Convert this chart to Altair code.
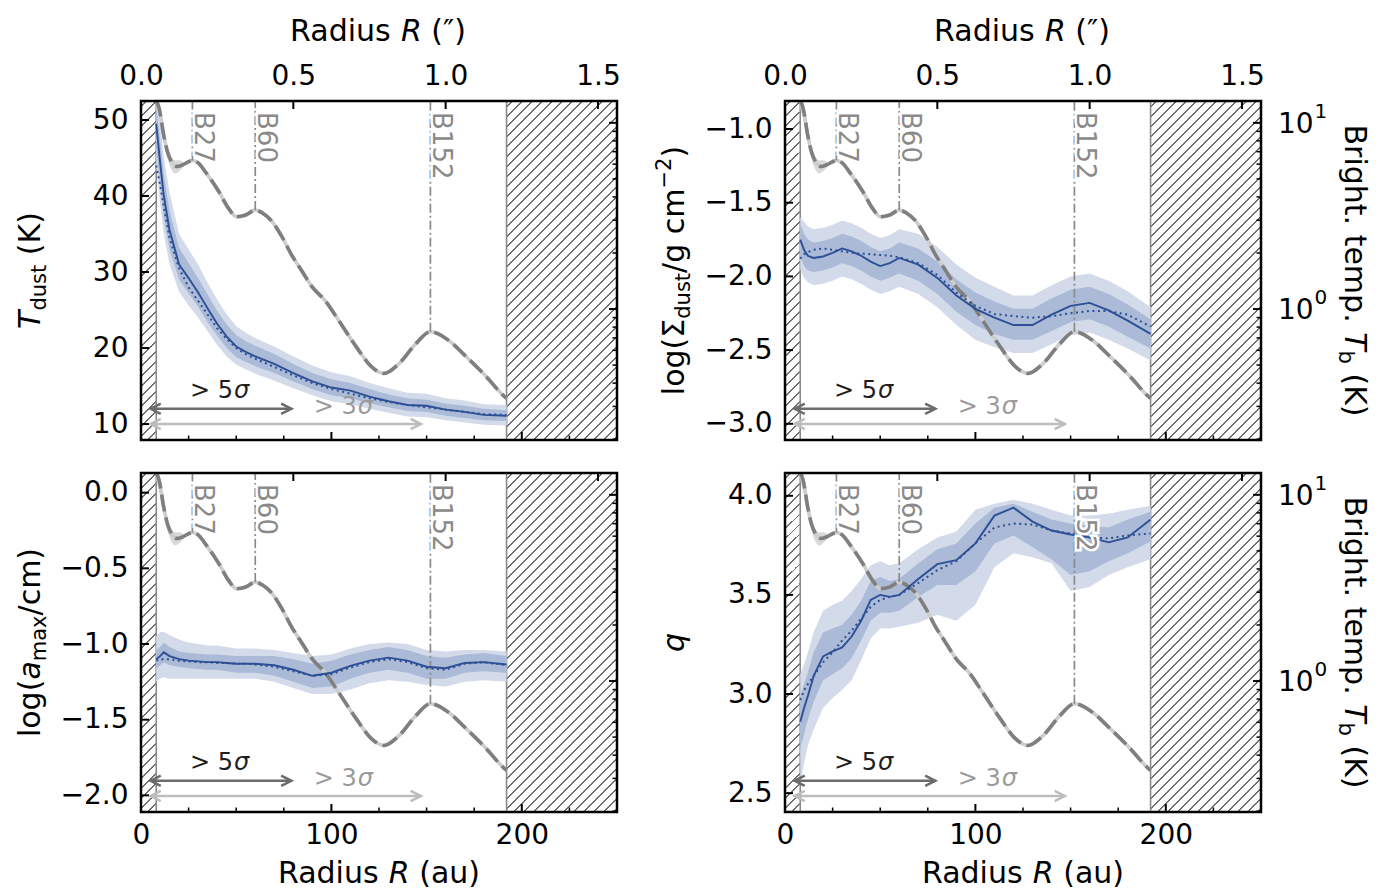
import altair as alt
import pandas as pd

# ---------------------------------------------------------------- data
R_AU = [8, 10, 12, 15, 20, 25, 30, 35, 40, 45, 50, 55, 60, 70, 80, 90, 100,
        110, 120, 130, 140, 150, 160, 170, 180, 192]

# dust temperature (K)
T_VAL = [49.5, 44.5, 40.0, 35.5, 31.0, 29.2, 27.3, 25.2, 23.2, 21.5, 20.2, 19.5, 18.9,
         17.9, 16.7, 15.6, 14.8, 14.4, 13.6, 13.0, 12.5, 12.4, 11.9, 11.6, 11.2, 11.1]
T_DOT = [44.0, 41.5, 38.5, 34.5, 30.5, 28.0, 26.2, 24.4, 22.6, 21.2, 20.0, 19.2, 18.6,
         17.5, 16.4, 15.4, 14.6, 14.0, 13.4, 12.9, 12.5, 12.2, 11.9, 11.6, 11.3, 11.2]
T_IN_LO = [46.5, 41.5, 37.0, 33.0, 29.0, 27.2, 25.4, 23.4, 21.6, 20.0, 18.8, 18.2, 17.6,
           16.7, 15.6, 14.6, 13.8, 13.4, 12.7, 12.2, 11.7, 11.6, 11.1, 10.8, 10.5, 10.4]
T_IN_HI = [52.0, 47.5, 42.8, 38.0, 33.2, 31.2, 29.2, 27.0, 24.9, 23.1, 21.7, 20.9, 20.3,
           19.2, 17.9, 16.7, 15.9, 15.4, 14.6, 13.9, 13.4, 13.2, 12.7, 12.4, 12.0, 11.8]
T_OUT_LO = [44.0, 39.0, 35.0, 31.0, 27.4, 25.6, 24.0, 22.2, 20.4, 18.9, 17.8, 17.2, 16.6,
            15.7, 14.7, 13.8, 13.0, 12.6, 12.0, 11.5, 11.0, 10.9, 10.5, 10.2, 9.9, 9.8]
T_OUT_HI = [54.0, 50.0, 45.0, 40.5, 35.0, 33.0, 31.0, 28.6, 26.4, 24.4, 22.9, 22.0, 21.3,
            20.2, 18.9, 17.7, 16.8, 16.3, 15.4, 14.7, 14.1, 14.0, 13.4, 13.1, 12.6, 12.5]

# log surface density
S_VAL = [-1.75, -1.82, -1.86, -1.875, -1.865, -1.84, -1.81, -1.83, -1.86, -1.90, -1.93, -1.91, -1.875,
         -1.92, -2.01, -2.13, -2.22, -2.28, -2.33, -2.33, -2.26, -2.20, -2.18, -2.23, -2.30, -2.39]
S_DOT = [-1.88, -1.85, -1.835, -1.82, -1.81, -1.82, -1.83, -1.84, -1.845, -1.85, -1.855, -1.86, -1.87,
         -1.91, -1.99, -2.11, -2.20, -2.255, -2.27, -2.28, -2.27, -2.25, -2.235, -2.235, -2.26, -2.34]
S_IN_LO = [-1.86, -1.93, -1.96, -1.97, -1.96, -1.94, -1.91, -1.93, -1.96, -2.00, -2.03, -2.01, -1.98,
           -2.03, -2.12, -2.24, -2.33, -2.39, -2.43, -2.43, -2.37, -2.31, -2.29, -2.34, -2.41, -2.49]
S_IN_HI = [-1.64, -1.71, -1.75, -1.77, -1.76, -1.74, -1.71, -1.73, -1.76, -1.80, -1.83, -1.81, -1.77,
           -1.81, -1.90, -2.02, -2.11, -2.17, -2.22, -2.22, -2.15, -2.09, -2.07, -2.12, -2.19, -2.29]
S_OUT_LO = [-1.95, -2.01, -2.04, -2.06, -2.05, -2.03, -2.00, -2.02, -2.05, -2.09, -2.12, -2.10, -2.07,
            -2.12, -2.21, -2.33, -2.43, -2.48, -2.52, -2.52, -2.46, -2.40, -2.38, -2.43, -2.49, -2.57]
S_OUT_HI = [-1.60, -1.63, -1.66, -1.68, -1.67, -1.65, -1.62, -1.64, -1.67, -1.71, -1.74, -1.72, -1.68,
            -1.71, -1.80, -1.92, -2.01, -2.07, -2.13, -2.13, -2.06, -2.00, -1.98, -2.03, -2.10, -2.21]

# log maximum grain size
A_VAL = [-1.10, -1.08, -1.055, -1.08, -1.10, -1.11, -1.115, -1.12, -1.12, -1.125, -1.13, -1.13, -1.13,
         -1.14, -1.17, -1.21, -1.19, -1.145, -1.11, -1.09, -1.11, -1.15, -1.16, -1.125, -1.12, -1.135]
A_DOT = [-1.11, -1.10, -1.10, -1.10, -1.11, -1.115, -1.12, -1.12, -1.125, -1.125, -1.13, -1.13, -1.135,
         -1.15, -1.18, -1.21, -1.20, -1.155, -1.12, -1.10, -1.12, -1.16, -1.17, -1.13, -1.12, -1.14]
A_IN_LO = [-1.16, -1.14, -1.12, -1.14, -1.15, -1.16, -1.165, -1.17, -1.17, -1.18, -1.19, -1.19, -1.19,
           -1.21, -1.25, -1.29, -1.28, -1.23, -1.19, -1.17, -1.19, -1.23, -1.23, -1.19, -1.18, -1.19]
A_IN_HI = [-1.04, -1.02, -0.99, -1.02, -1.05, -1.06, -1.065, -1.07, -1.07, -1.075, -1.08, -1.08, -1.08,
           -1.08, -1.10, -1.13, -1.11, -1.07, -1.04, -1.02, -1.04, -1.08, -1.09, -1.07, -1.06, -1.08]
A_OUT_LO = [-1.25, -1.23, -1.22, -1.23, -1.23, -1.23, -1.23, -1.23, -1.23, -1.23, -1.23, -1.23, -1.23,
            -1.25, -1.29, -1.33, -1.33, -1.30, -1.26, -1.24, -1.25, -1.27, -1.28, -1.25, -1.24, -1.25]
A_OUT_HI = [-0.95, -0.92, -0.92, -0.94, -0.97, -0.99, -1.00, -1.01, -1.01, -1.02, -1.03, -1.03, -1.03,
            -1.04, -1.06, -1.08, -1.07, -1.03, -1.00, -0.99, -1.00, -1.04, -1.05, -1.04, -1.04, -1.05]

# power-law index q
Q_VAL = [2.86, 2.93, 2.99, 3.09, 3.19, 3.215, 3.235, 3.29, 3.37, 3.475, 3.50, 3.49, 3.50,
         3.58, 3.655, 3.675, 3.76, 3.90, 3.94, 3.87, 3.825, 3.805, 3.79, 3.765, 3.79, 3.88]
Q_DOT = [2.97, 3.02, 3.05, 3.09, 3.16, 3.21, 3.27, 3.32, 3.38, 3.44, 3.475, 3.49, 3.50,
         3.56, 3.625, 3.67, 3.76, 3.84, 3.86, 3.855, 3.825, 3.81, 3.79, 3.785, 3.80, 3.81]
Q_IN_LO = [2.72, 2.80, 2.87, 2.96, 3.07, 3.10, 3.13, 3.18, 3.27, 3.37, 3.41, 3.41, 3.42,
           3.49, 3.55, 3.55, 3.62, 3.76, 3.80, 3.74, 3.68, 3.60, 3.62, 3.67, 3.71, 3.77]
Q_IN_HI = [2.98, 3.05, 3.11, 3.21, 3.31, 3.33, 3.35, 3.40, 3.47, 3.57, 3.59, 3.57, 3.58,
           3.66, 3.73, 3.76, 3.86, 3.94, 3.96, 3.92, 3.88, 3.86, 3.85, 3.84, 3.88, 3.92]
Q_OUT_LO = [2.55, 2.65, 2.74, 2.82, 2.93, 2.98, 3.02, 3.07, 3.17, 3.28, 3.33, 3.33, 3.34,
            3.36, 3.40, 3.37, 3.45, 3.64, 3.71, 3.69, 3.66, 3.52, 3.54, 3.60, 3.64, 3.68]
Q_OUT_HI = [3.10, 3.15, 3.21, 3.31, 3.42, 3.45, 3.47, 3.52, 3.58, 3.65, 3.67, 3.65, 3.66,
            3.73, 3.79, 3.82, 3.93, 3.96, 3.98, 3.96, 3.93, 3.90, 3.90, 3.91, 3.93, 3.95]

# brightness temperature profile (K), right-hand log axis
TB_R = [8, 9.5, 12, 14, 16.3, 19, 22, 27, 30, 34, 41, 46, 50, 55, 60, 64, 69, 74, 79, 84.5,
        90, 97, 104, 113, 121, 127.6, 135.5, 144.4, 152, 161.8, 170.7, 181.2, 190.7, 192]
TB_K = [13.2, 12.0, 8.51, 6.92, 6.12, 5.83, 5.96, 6.28, 6.10, 5.42, 4.25, 3.47, 3.13, 3.20,
        3.40, 3.27, 2.94, 2.45, 1.96, 1.60, 1.31, 1.10, 0.863, 0.628, 0.491, 0.451, 0.509,
        0.652, 0.755, 0.676, 0.556, 0.435, 0.340, 0.331]
# light uncertainty band of the brightness temperature near the centre
TB_ERR_R = [8, 10, 12, 14, 16, 18, 20, 22]
TB_ERR_LO = [12.0, 10.0, 7.9, 6.4, 5.6, 5.35, 5.5, 5.75]
TB_ERR_HI = [14.0, 12.0, 9.2, 7.4, 6.6, 6.3, 6.3, 6.2]

B_NAMES = ["B27", "B60", "B152"]
B_R = [27, 60, 152]
HATCH_IN = [0, 8]
HATCH_OUT = [192, 250]
SIG5 = [5, 79]
SIG3 = [5, 147]
SIG5_LABEL_R = 41
SIG3_LABEL_R = 106

X_DOMAIN = [0, 250]
TB_DOMAIN = [0.198, 13.1]
X_MAJOR = [0, 100, 200]
X_MINOR = [25, 50, 75, 125, 150, 175, 225]
ARCSEC_TICKS = [0.0, 0.5, 1.0, 1.5]
AU_PER_ARCSEC = 160
TB_MAJOR = [1, 10]
TB_MAJOR_EXP = ["0", "1"]
TB_MINOR = [0.2, 0.3, 0.4, 0.5, 0.6, 0.7, 0.8, 0.9, 2, 3, 4, 5, 6, 7, 8, 9]

# ---------------------------------------------------------------- style
W, H = 476, 339
FONT = "DejaVu Sans"
FS_TICK = 28
FS_TITLE = 30
BLUE = "#2c4f95"
BAND_OUT = "#d3dbea"
BAND_IN = "#abbad7"
GRAY_DARK = "#7f7f7f"
GRAY_LIGHT = "#cdcdcd"
B_COLOR = "#8a8a8a"
HATCH_COLOR = "#6e6e6e"
ARROW_DARK = "#6b6b6b"
ARROW_LIGHT = "#bdbdbd"
LEFT_HEAD = "M1,-0.5L0,0L1,0.5"
RIGHT_HEAD = "M-1,-0.5L0,0L-1,0.5"
MAJ, MIN = 8, 4.5

ONE = pd.DataFrame({"k": [0]})

CW = {" ": 0.318, "(": 0.390, ")": 0.390, "/": 0.337, ".": 0.318, "−": 0.838, "″": 0.44,
      ">": 0.838, "5": 0.636, "3": 0.636, "σ": 0.636,
      "0": 0.636, "1": 0.636, "2": 0.636, "B": 0.686, "K": 0.656, "R": 0.695, "T": 0.611,
      "Σ": 0.632, "a": 0.613, "b": 0.635, "c": 0.550, "d": 0.635, "e": 0.615, "g": 0.635,
      "h": 0.634, "i": 0.278, "l": 0.278, "m": 0.974, "n": 0.634, "o": 0.612, "p": 0.635,
      "q": 0.635, "r": 0.411, "s": 0.521, "t": 0.392, "u": 0.634, "x": 0.592}


def text_w(s, fs):
    return sum(CW.get(ch, 0.6) for ch in s) * fs


def rich_text(segments, cx, cy, angle, fs=FS_TITLE):
    sizes = {"n": fs, "i": fs, "sub": round(fs * 0.7), "sup": round(fs * 0.7)}
    shifts = {"n": 0, "i": 0, "sub": 0.22 * fs, "sup": -0.42 * fs}
    widths = [text_w(t, sizes[k]) for t, k in segments]
    pos = -sum(widths) / 2
    out = []
    for (t, k), w in zip(segments, widths):
        lead = len(t) - len(t.lstrip(" "))
        p = pos + lead * CW[" "] * sizes[k]
        txt = t.strip(" ")
        sh = shifts[k]
        if angle == 0:
            x, y = cx + p, cy + 0.36 * fs + sh
        elif angle == 270:
            x, y = cx + 0.36 * fs + sh, cy - p
        else:
            x, y = cx - 0.36 * fs - sh, cy + p
        out.append(
            alt.Chart(ONE).mark_text(
                text=txt, angle=angle, align="left", baseline="alphabetic",
                fontSize=sizes[k], font=FONT, color="black",
                fontStyle="italic" if k == "i" else "normal",
            ).encode(x=alt.value(x), y=alt.value(y))
        )
        pos += w
    return out


def hatch(w, h, step=10.0, thick=1.7, color=HATCH_COLOR):
    L = w + h
    stops = [alt.GradientStop(color="white", offset=0)]
    pos = step * 0.5
    while pos + thick < L:
        a, b = pos / L, (pos + thick) / L
        stops += [alt.GradientStop(color="white", offset=a),
                  alt.GradientStop(color=color, offset=a),
                  alt.GradientStop(color=color, offset=b),
                  alt.GradientStop(color="white", offset=b)]
        pos += step
    stops.append(alt.GradientStop(color="white", offset=1))
    c = L / (w * w + h * h)
    return alt.LinearGradient(gradient="linear", stops=stops, x1=0, y1=0, x2=w * c, y2=h * c)


def tb_expr(field, dom):
    lo, hi = TB_DOMAIN
    return (f"{dom[0]} + (log(datum.{field}) - log({lo})) / (log({hi}) - log({lo}))"
            f" * ({dom[1]} - {dom[0]})")


def make_panel(p, top_row, right_col):
    df = pd.DataFrame({"r": R_AU, "v": p["val"], "d": p["dot"], "il": p["il"],
                       "ih": p["ih"], "ol": p["ol"], "oh": p["oh"]})
    dom = p["dom"]
    xs = alt.Scale(domain=X_DOMAIN, nice=False, zero=False)
    ys = alt.Scale(domain=dom, nice=False, zero=False)

    common = dict(ticks=False, domain=False, grid=False, title=None, labelFont=FONT,
                  labelFontSize=FS_TICK, labelColor="black", labelFlush=False,
                  labelOverlap=False)
    if top_row:
        xaxis = alt.Axis(orient="top", values=[a * AU_PER_ARCSEC for a in ARCSEC_TICKS],
                         labelExpr=f"format(datum.value/{AU_PER_ARCSEC}, '.1f')",
                         labelPadding=11, **common)
    else:
        xaxis = alt.Axis(orient="bottom", values=X_MAJOR, format="d", labelPadding=9,
                         **common)
    yaxis = alt.Axis(orient="left", values=p["ticks"], format=p["fmt"], labelPadding=13,
                     **common)

    def X(f):
        return alt.X(f, type="quantitative", scale=xs, axis=xaxis)

    def Y(f):
        return alt.Y(f, type="quantitative", scale=ys, axis=yaxis)

    L = []
    span = X_DOMAIN[1] - X_DOMAIN[0]
    for a, b in (HATCH_IN, HATCH_OUT):
        w = (b - a) * W / span
        L.append(alt.Chart(pd.DataFrame({"a": [a], "b": [b]}))
                 .mark_rect(fill=hatch(w, H), strokeWidth=0)
                 .encode(x=X("a"), x2=alt.X2("b"), y=alt.value(0), y2=alt.value(H)))
    L.append(alt.Chart(pd.DataFrame({"r": [HATCH_IN[1], HATCH_OUT[0]]}))
             .mark_rule(color="#8a8a8a", strokeWidth=1.6)
             .encode(x=X("r"), y=alt.value(0), y2=alt.value(H)))

    base = alt.Chart(df)
    L.append(base.mark_area(color=BAND_OUT, opacity=1, clip=True)
             .encode(x=X("r"), y=Y("ol"), y2=alt.Y2("oh")))
    L.append(base.mark_area(color=BAND_IN, opacity=1, clip=True)
             .encode(x=X("r"), y=Y("il"), y2=alt.Y2("ih")))

    err = alt.Chart(pd.DataFrame({"r": TB_ERR_R, "lo": TB_ERR_LO, "hi": TB_ERR_HI})
                    ).transform_calculate(tlo=tb_expr("lo", dom), thi=tb_expr("hi", dom))
    L.append(err.mark_area(color="#d9d9d9", opacity=1, interpolate="monotone", clip=True)
             .encode(x=X("r"), y=Y("tlo"), y2=alt.Y2("thi")))

    tbc = alt.Chart(pd.DataFrame({"r": TB_R, "tb": TB_K})).transform_calculate(
        ty=tb_expr("tb", dom))
    L.append(tbc.mark_line(color=GRAY_LIGHT, strokeWidth=3.6, interpolate="monotone", clip=True)
             .encode(x=X("r"), y=Y("ty")))
    L.append(tbc.mark_line(color=GRAY_DARK, strokeWidth=3.6, interpolate="monotone",
                           strokeDash=[17, 6], clip=True)
             .encode(x=X("r"), y=Y("ty")))

    bdf = alt.Chart(pd.DataFrame({"r": B_R, "name": B_NAMES,
                                  "tb": [TB_K[TB_R.index(r)] for r in B_R]})
                    ).transform_calculate(ty=tb_expr("tb", dom))
    L.append(bdf.mark_rule(color=B_COLOR, strokeWidth=1.7, strokeDash=[9, 3, 2, 3])
             .encode(x=X("r"), y=Y("ty"), y2=alt.value(0)))

    L.append(base.mark_line(color=BLUE, strokeWidth=2, strokeDash=[2, 3.5], clip=True)
             .encode(x=X("r"), y=Y("d")))
    L.append(base.mark_line(color=BLUE, strokeWidth=1.9, clip=True)
             .encode(x=X("r"), y=Y("v")))

    for halo in (True, False):
        kw = dict(angle=90, align="left", baseline="alphabetic", dy=-3, fontSize=26, font=FONT)
        if halo:
            kw.update(color="white", stroke="white", strokeWidth=5)
        else:
            kw.update(color=B_COLOR)
        L.append(bdf.mark_text(**kw).encode(x=X("r"), y=alt.value(11), text="name:N"))

    y5 = H * (1 - 0.092)
    y3 = H * (1 - 0.047)
    for rng, ypx, col in ((SIG3, y3, ARROW_LIGHT), (SIG5, y5, ARROW_DARK)):
        d = alt.Chart(pd.DataFrame({"a": [rng[0]], "b": [rng[1]]}))
        L.append(d.mark_rule(color=col, strokeWidth=2.5)
                 .encode(x=X("a"), x2=alt.X2("b"), y=alt.value(ypx)))
        L.append(d.mark_point(shape=LEFT_HEAD, size=420, filled=False, color=col,
                              strokeWidth=2.5, opacity=1)
                 .encode(x=X("a"), y=alt.value(ypx)))
        L.append(d.mark_point(shape=RIGHT_HEAD, size=420, filled=False, color=col,
                              strokeWidth=2.5, opacity=1)
                 .encode(x=X("b"), y=alt.value(ypx)))

    # "> 5σ" and "> 3σ" with an italic sigma
    for r, frac, num, col in ((SIG5_LABEL_R, 0.145, "> 5", "#1e1e1e"),
                              (SIG3_LABEL_R, 0.097, "> 3", "#9a9a9a")):
        fs = 24
        split = (text_w(num, fs) - text_w(num + "σ", fs) / 2)
        lab = alt.Chart(pd.DataFrame({"r": [r]}))
        L.append(lab.mark_text(text=num, fontSize=fs, font=FONT, color=col, align="right",
                               baseline="middle", dx=split)
                 .encode(x=X("r"), y=alt.value(H * (1 - frac))))
        L.append(lab.mark_text(text="σ", fontSize=fs, font=FONT, color=col, align="left",
                               baseline="middle", dx=split + 1, fontStyle="italic")
                 .encode(x=X("r"), y=alt.value(H * (1 - frac))))

    # frame
    L.append(alt.Chart(ONE).mark_rect(fill="transparent", stroke="black", strokeWidth=2.5)
             .encode(x=alt.value(0), x2=alt.value(W), y=alt.value(0), y2=alt.value(H)))

    # inward ticks
    def yt(vals, x0, x1, wdt, tb=False):
        c = alt.Chart(pd.DataFrame({"t": vals}))
        if tb:
            c = c.transform_calculate(ty=tb_expr("t", dom))
            fld = "ty"
        else:
            fld = "t"
        return c.mark_rule(color="black", strokeWidth=wdt).encode(
            y=Y(fld), x=alt.value(x0), x2=alt.value(x1))

    def xt(vals, y0, y1, wdt):
        return alt.Chart(pd.DataFrame({"t": vals})).mark_rule(
            color="black", strokeWidth=wdt).encode(x=X("t"), y=alt.value(y0), y2=alt.value(y1))

    L.append(yt(p["ticks"], 0, MAJ, 2))
    L.append(yt(TB_MAJOR, W - MAJ, W, 2, tb=True))
    L.append(yt(TB_MINOR, W - MIN, W, 1.5, tb=True))
    L.append(xt(X_MAJOR, H - MAJ, H, 2))
    L.append(xt(X_MINOR, H - MIN, H, 1.5))
    L.append(xt([a * AU_PER_ARCSEC for a in ARCSEC_TICKS], 0, MAJ, 2))

    if right_col:
        lab = alt.Chart(pd.DataFrame({"t": TB_MAJOR, "e": TB_MAJOR_EXP})).transform_calculate(
            ty=tb_expr("t", dom))
        L.append(lab.mark_text(text="10", align="left", baseline="middle", fontSize=FS_TICK,
                               font=FONT, color="black", dy=2)
                 .encode(x=alt.value(W + 17), y=Y("ty")))
        L.append(lab.mark_text(align="left", baseline="middle", fontSize=20,
                               font=FONT, color="black", dy=-11)
                 .encode(x=alt.value(W + 17 + text_w("10", FS_TICK) + 1), y=Y("ty"),
                         text="e:N"))

    # titles
    L += rich_text(p["title"], -112, H / 2, 270)
    if right_col:
        L += rich_text([("Bright. temp. ", "n"), ("T", "i"), ("b", "sub"), (" (K)", "n")],
                       W + 95, H / 2, 90)
    if top_row:
        L += rich_text([("Radius ", "n"), ("R", "i"), (" (″)", "n")], W / 2, -71, 0)
    else:
        L += rich_text([("Radius ", "n"), ("R", "i"), (" (au)", "n")], W / 2, H + 60, 0)

    return alt.layer(*L).properties(width=W, height=H)


PANELS = [
    dict(val=T_VAL, dot=T_DOT, il=T_IN_LO, ih=T_IN_HI, ol=T_OUT_LO, oh=T_OUT_HI,
         dom=[7.9, 52.5], ticks=[10, 20, 30, 40, 50], fmt="d",
         title=[("T", "i"), ("dust", "sub"), (" (K)", "n")]),
    dict(val=S_VAL, dot=S_DOT, il=S_IN_LO, ih=S_IN_HI, ol=S_OUT_LO, oh=S_OUT_HI,
         dom=[-3.11, -0.81], ticks=[-3.0, -2.5, -2.0, -1.5, -1.0], fmt=".1f",
         title=[("log(Σ", "n"), ("dust", "sub"), ("/g cm", "n"), ("−2", "sup"), (")", "n")]),
    dict(val=A_VAL, dot=A_DOT, il=A_IN_LO, ih=A_IN_HI, ol=A_OUT_LO, oh=A_OUT_HI,
         dom=[-2.11, 0.13], ticks=[-2.0, -1.5, -1.0, -0.5, 0.0], fmt=".1f",
         title=[("log(", "n"), ("a", "i"), ("max", "sub"), ("/cm)", "n")]),
    dict(val=Q_VAL, dot=Q_DOT, il=Q_IN_LO, ih=Q_IN_HI, ol=Q_OUT_LO, oh=Q_OUT_HI,
         dom=[2.405, 4.115], ticks=[2.5, 3.0, 3.5, 4.0], fmt=".1f",
         title=[("q", "i")]),
]

p0 = make_panel(PANELS[0], True, False)
p1 = make_panel(PANELS[1], True, True)
p2 = make_panel(PANELS[2], False, False)
p3 = make_panel(PANELS[3], False, True)

chart = (alt.concat(p0, p1, p2, p3, columns=2, spacing={"row": 29, "column": 33})
         .properties(padding={"left": 7, "top": 8, "right": 5, "bottom": 4})
         .configure(font=FONT)
         .configure_view(stroke="transparent", strokeWidth=0)
         .configure_axis(grid=False))

chart.save("out.html", embed_options={"renderer": "svg", "actions": False})
